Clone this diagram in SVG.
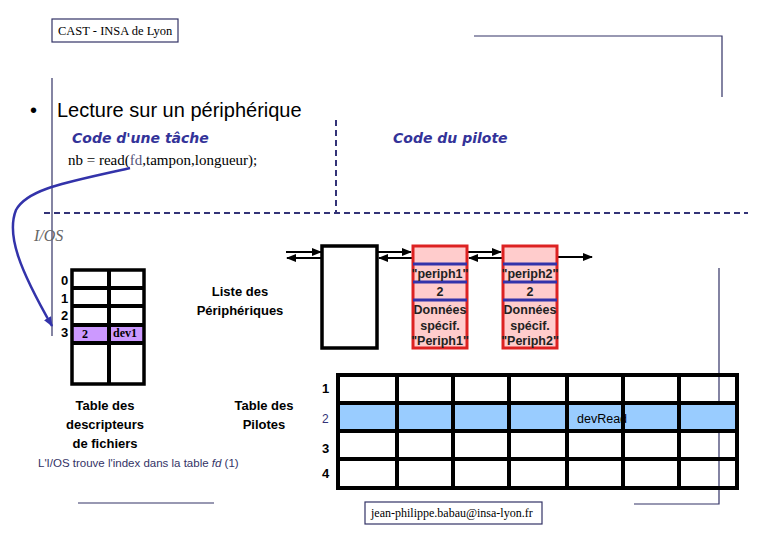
<svg xmlns="http://www.w3.org/2000/svg" width="780" height="540" viewBox="0 0 780 540">
<defs>
<style>
.thin{stroke:#333366;stroke-width:1.2;fill:none}
.dash{stroke:#333377;stroke-width:2;stroke-dasharray:6,4;fill:none}
.blk{stroke:#000;stroke-width:3.5;fill:none}
.cell{stroke:#000;stroke-width:4}
.hv{font-family:"Liberation Sans",Arial,sans-serif}
.bold{font-family:"Liberation Sans",Arial,sans-serif;font-weight:bold;font-size:13px;fill:#000}
.serif{font-family:"Liberation Serif","Times New Roman",serif}
.comic{font-family:"DejaVu Sans",sans-serif;font-weight:bold;font-style:italic;font-size:14px;fill:#333399}
.arr{stroke:#000;stroke-width:2;fill:none}
.pbox{fill:#FFCCCC;stroke:#DD2222;stroke-width:3}
.pline{stroke:#3333AA;stroke-width:3}
.ptxt{font-family:"Liberation Sans",Arial,sans-serif;font-weight:bold;font-size:12.5px;fill:#222;text-anchor:middle}
</style>
<marker id="ah" viewBox="0 0 10 10" refX="9" refY="5" markerWidth="5" markerHeight="5" orient="auto">
<path d="M0,1 L10,5 L0,9 z" fill="#000"/>
</marker>
<marker id="ahb" viewBox="0 0 10 10" refX="9" refY="5" markerWidth="4" markerHeight="4" orient="auto">
<path d="M0,1 L10,5 L0,9 z" fill="#3333AA"/>
</marker>
</defs>
<rect width="780" height="540" fill="#fff"/>

<g id="header">
<rect x="52" y="19" width="126" height="23" class="thin"/>
<text x="58" y="35" class="serif" font-size="12.5" fill="#000">CAST - INSA de Lyon</text>
<polyline points="474,36 722,36 722,97" class="thin"/>
</g>

<g id="frame">
<line x1="52" y1="78" x2="52" y2="336" class="thin"/>
<line x1="336" y1="120" x2="336" y2="213" class="dash"/>
<line x1="44" y1="213" x2="748" y2="213" class="dash"/>
<line x1="78" y1="503" x2="214" y2="503" class="thin"/>
<polyline points="719,268 719,504 634,504" class="thin"/>
</g>

<g id="title">
<text x="30" y="117" class="hv" font-size="20" fill="#000">•</text>
<text x="57" y="117" class="hv" font-size="20" fill="#000">Lecture sur un périphérique</text>
<text x="72" y="143" class="comic">Code d'une tâche</text>
<text x="393" y="143" class="comic">Code du pilote</text>
<text x="68" y="165" class="serif" font-size="15" fill="#000">nb = read(<tspan fill="#55557a">fd</tspan>,tampon,longueur);</text>
<text x="34" y="241" class="serif" font-size="16" font-style="italic" fill="#666">I/OS</text>
</g>

<g id="connectors">
<path d="M130,168 C70,182 28,188 16,210 C6,235 20,270 52,326" stroke="#3333AA" stroke-width="2.5" fill="none" marker-end="url(#ahb)"/>
<line x1="286" y1="252" x2="321" y2="252" class="arr" marker-end="url(#ah)"/>
<line x1="322" y1="258" x2="287" y2="258" class="arr" marker-end="url(#ah)"/>
<line x1="378" y1="252" x2="411" y2="252" class="arr" marker-end="url(#ah)"/>
<line x1="412" y1="258" x2="379" y2="258" class="arr" marker-end="url(#ah)"/>
<line x1="468" y1="252" x2="501" y2="252" class="arr" marker-end="url(#ah)"/>
<line x1="502" y1="258" x2="469" y2="258" class="arr" marker-end="url(#ah)"/>
<line x1="558" y1="257" x2="592" y2="257" class="arr" marker-end="url(#ah)"/>
</g>

<g id="fd-table">
<rect x="72" y="325" width="72" height="18" fill="#CC99FF"/>
<rect x="72" y="270" width="72" height="114" class="blk" stroke-width="4"/>
<line x1="109" y1="270" x2="109" y2="384" class="cell"/>
<line x1="72" y1="288" x2="144" y2="288" class="cell"/>
<line x1="72" y1="306" x2="144" y2="306" class="cell"/>
<line x1="72" y1="325" x2="144" y2="325" class="cell"/>
<line x1="72" y1="343" x2="144" y2="343" class="cell"/>
<text x="61" y="285" class="bold" font-size="12">0</text>
<text x="61" y="303" class="bold" font-size="12">1</text>
<text x="61" y="320" class="bold" font-size="12">2</text>
<text x="61" y="337" class="bold" font-size="12" fill="#333366">3</text>
<text x="82" y="338" class="serif" font-size="12" font-weight="bold" fill="#000">2</text>
<text x="113" y="337" class="serif" font-size="12" font-weight="bold" fill="#000">dev1</text>
<text x="105" y="410" class="bold" text-anchor="middle">Table des</text>
<text x="105" y="429" class="bold" text-anchor="middle">descripteurs</text>
<text x="105" y="448" class="bold" text-anchor="middle">de fichiers</text>
<text x="38" y="467" class="hv" font-size="11.5" fill="#333366">L'I/OS trouve l'index dans la table <tspan font-style="italic">fd</tspan>  (1)</text>
</g>

<g id="liste">
<text x="240" y="296" class="bold" text-anchor="middle">Liste des</text>
<text x="240" y="315" class="bold" text-anchor="middle">Périphériques</text>
<rect x="322" y="246" width="55" height="102" fill="#fff" stroke="#000" stroke-width="3.5"/>
</g>

<g id="periph1">
<rect x="413" y="246" width="54" height="102" class="pbox"/>
<line x1="413" y1="264" x2="467" y2="264" class="pline"/>
<line x1="413" y1="282" x2="467" y2="282" class="pline"/>
<line x1="413" y1="300" x2="467" y2="300" class="pline"/>
<text x="440" y="278" class="ptxt">"periph1"</text>
<text x="440" y="296" class="ptxt">2</text>
<text x="440" y="314" class="ptxt">Données</text>
<text x="440" y="330" class="ptxt">spécif.</text>
<text x="440" y="345" class="ptxt">"Periph1"</text>
</g>

<g id="periph2">
<rect x="503" y="246" width="54" height="102" class="pbox"/>
<line x1="503" y1="264" x2="557" y2="264" class="pline"/>
<line x1="503" y1="282" x2="557" y2="282" class="pline"/>
<line x1="503" y1="300" x2="557" y2="300" class="pline"/>
<text x="530" y="278" class="ptxt">"periph2"</text>
<text x="530" y="296" class="ptxt">2</text>
<text x="530" y="314" class="ptxt">Données</text>
<text x="530" y="330" class="ptxt">spécif.</text>
<text x="530" y="345" class="ptxt">"Periph2"</text>
</g>

<g id="pilotes">
<text x="264" y="410" class="bold" text-anchor="middle">Table des</text>
<text x="264" y="429" class="bold" text-anchor="middle">Pilotes</text>
<rect x="338" y="403" width="399" height="28" fill="#99CCFF"/>
<rect x="338" y="375" width="399" height="113" fill="none" stroke="#000" stroke-width="4"/>
<line x1="397" y1="375" x2="397" y2="488" class="cell"/>
<line x1="453" y1="375" x2="453" y2="488" class="cell"/>
<line x1="509" y1="375" x2="509" y2="488" class="cell"/>
<line x1="567" y1="375" x2="567" y2="488" class="cell"/>
<line x1="623" y1="375" x2="623" y2="488" class="cell"/>
<line x1="679" y1="375" x2="679" y2="488" class="cell"/>
<line x1="338" y1="403" x2="737" y2="403" class="cell"/>
<line x1="338" y1="431" x2="737" y2="431" class="cell"/>
<line x1="338" y1="459" x2="737" y2="459" class="cell"/>
<text x="322" y="393" class="bold" font-size="12">1</text>
<text x="322" y="423" class="hv" font-size="12" fill="#333377">2</text>
<text x="322" y="453" class="bold" font-size="12">3</text>
<text x="322" y="478" class="bold" font-size="12">4</text>
<text x="577" y="423" class="hv" font-size="12.5" fill="#000">devRead</text>
</g>

<g id="footer">
<rect x="365" y="502" width="177" height="22" class="thin"/>
<text x="371" y="517" class="serif" font-size="12" fill="#000">jean-philippe.babau@insa-lyon.fr</text>
</g>
</svg>
